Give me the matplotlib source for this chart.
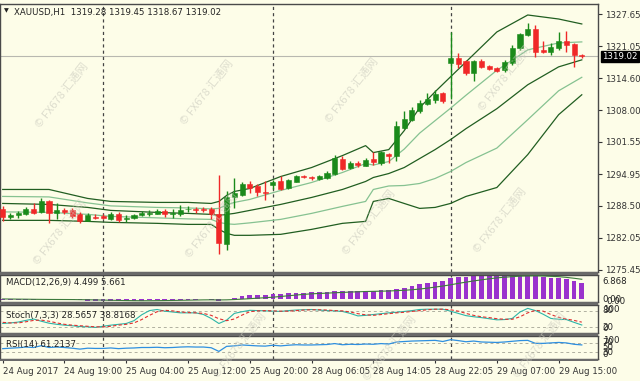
import matplotlib
matplotlib.use('Agg')
import matplotlib.pyplot as plt
from matplotlib.patches import Rectangle
import numpy as np

# ---------------- data ----------------
title_text = "XAUUSD,H1  1319.28 1319.45 1318.67 1319.02"
opens = [1287.8, 1286.3, 1286.6, 1286.8, 1287.9, 1287.3, 1289.5, 1287.0, 1287.65, 1287.65,
         1286.8, 1285.4, 1286.3, 1286.4, 1285.8, 1286.8, 1285.8, 1286.0, 1286.6, 1286.95,
         1286.95, 1287.45, 1286.95, 1286.8, 1287.8, 1287.9, 1287.9, 1287.8, 1286.8, 1280.7,
         1290.4, 1290.65, 1292.9, 1292.6, 1291.4, 1292.75, 1293.55, 1292.2, 1293.4, 1294.7,
         1294.45, 1294.1, 1294.25, 1295.05, 1298.1, 1296.3, 1297.3, 1296.75, 1298.05, 1297.3,
         1299.2, 1298.65, 1304.4, 1306.1, 1307.9, 1309.3, 1310.15, 1311.5, 1317.6, 1318.75,
         1318.1, 1315.6, 1318.15, 1316.95, 1316.6, 1316.25, 1317.6, 1320.7, 1323.4, 1324.5,
         1320.33, 1319.95, 1320.8, 1322.15, 1321.5, 1319.28]
highs = [1288.4, 1287.0, 1287.5, 1288.2, 1289.1, 1290.2, 1289.8, 1289.1, 1288.15, 1288.15,
         1287.2, 1287.0, 1286.8, 1286.9, 1287.3, 1287.2, 1286.6, 1286.9, 1287.4, 1287.6,
         1287.8, 1287.8, 1287.8, 1288.7, 1288.5, 1288.3, 1288.3, 1288.3, 1294.9, 1291.5,
         1294.25, 1293.35, 1293.55, 1292.9, 1293.55, 1293.75, 1294.6, 1294.1, 1294.9, 1294.9,
         1294.6, 1294.8, 1295.6, 1298.8, 1298.65, 1297.6, 1297.6, 1298.2, 1299.5, 1299.8,
         1299.35, 1305.75, 1307.9, 1308.6, 1310.15, 1311.5, 1312.2, 1311.7, 1323.9, 1319.65,
         1318.3, 1318.3, 1318.4, 1317.3, 1316.9, 1318.3, 1321.35, 1323.7, 1325.9, 1325.4,
         1322.2, 1321.7, 1324.05, 1324.25, 1321.7, 1319.45]
lows = [1285.4, 1285.8, 1286.0, 1286.6, 1286.8, 1287.1, 1285.1, 1285.8, 1286.8, 1286.1,
        1285.1, 1285.4, 1285.8, 1285.8, 1285.6, 1285.3, 1285.3, 1285.8, 1286.4, 1286.4,
        1286.8, 1286.3, 1286.1, 1286.4, 1287.3, 1287.1, 1287.2, 1285.8, 1278.7, 1279.5,
        1288.15, 1290.5, 1291.2, 1290.5, 1289.8, 1292.05, 1291.85, 1292.05, 1293.3, 1294.2,
        1293.9, 1293.9, 1294.1, 1294.8, 1295.8, 1295.95, 1296.5, 1296.6, 1296.85, 1296.95,
        1297.35, 1297.75, 1304.3, 1305.9, 1307.45, 1309.0, 1309.5, 1309.6, 1310.3, 1316.6,
        1315.25, 1313.9, 1316.6, 1316.2, 1315.85, 1315.9, 1317.3, 1320.3, 1323.2, 1318.95,
        1319.65, 1319.2, 1320.33, 1319.95, 1316.8, 1318.67]
closes = [1286.2, 1286.6, 1287.0, 1287.8, 1287.1, 1289.5, 1287.1, 1287.65, 1287.3, 1286.4,
          1285.4, 1286.6, 1286.1, 1286.1, 1286.8, 1285.7, 1286.1, 1286.6, 1287.1, 1287.15,
          1287.45, 1286.8, 1287.15, 1287.65, 1287.9, 1287.65, 1287.65, 1286.9, 1280.9, 1290.4,
          1291.05, 1292.9, 1292.2, 1291.3, 1291.2, 1293.4, 1292.0, 1293.75, 1294.7, 1294.45,
          1294.15, 1294.6, 1295.25, 1298.2, 1296.1, 1297.3, 1296.8, 1297.9, 1297.5, 1299.45,
          1298.65, 1304.75, 1306.3, 1308.1, 1309.6, 1310.4, 1311.4, 1309.95, 1318.6, 1317.4,
          1315.6, 1318.1, 1316.8, 1316.4, 1316.1, 1317.95, 1320.8, 1323.5, 1324.5, 1319.95,
          1319.8, 1320.9, 1322.15, 1321.35, 1319.3, 1319.02]

# Bollinger bands (read at selected bars)
band_bars = [0, 6, 11, 14, 20, 24, 27, 28, 29, 30, 32, 36, 40, 44, 47, 48, 50, 52, 54, 56,
             58, 60, 64, 68, 72, 75]
bb_upper2 = [1291.87, 1291.87, 1290.04, 1289.43, 1289.23, 1289.23, 1289.02, 1289.43, 1290.65,
             1291.46, 1292.07, 1294.51, 1296.34, 1298.78, 1300.81, 1299.39, 1300.00, 1303.86,
             1308.54, 1311.79, 1314.84, 1317.89, 1323.99, 1327.45, 1326.63, 1325.62]
bb_upper1 = [1290.45, 1290.35, 1289.13, 1288.52, 1288.21, 1288.11, 1287.91, 1288.01, 1288.72,
             1289.23, 1289.84, 1291.67, 1293.29, 1295.33, 1297.16, 1296.85, 1297.56, 1300.10,
             1303.36, 1305.90, 1308.44, 1311.08, 1316.17, 1320.34, 1321.75, 1321.96]
bb_middle = [1289.02, 1288.82, 1288.21, 1287.60, 1287.19, 1286.99, 1286.79, 1286.58, 1286.79,
             1286.99, 1287.60, 1288.82, 1290.24, 1291.87, 1293.50, 1294.31, 1295.12, 1296.34,
             1298.17, 1300.00, 1302.03, 1304.27, 1308.34, 1313.22, 1316.87, 1318.30]
bb_lower1 = [1287.30, 1287.20, 1286.79, 1286.38, 1286.08, 1285.87, 1285.77, 1285.16, 1284.86,
             1284.76, 1285.06, 1285.77, 1286.99, 1288.42, 1289.43, 1291.87, 1292.58, 1292.68,
             1293.09, 1294.11, 1295.53, 1297.36, 1300.31, 1306.10, 1311.99, 1314.74]
bb_lower2 = [1285.57, 1285.57, 1285.36, 1285.16, 1284.96, 1284.75, 1284.75, 1283.73, 1282.92,
             1282.52, 1282.52, 1282.72, 1283.73, 1284.96, 1285.36, 1289.43, 1290.04, 1289.02,
             1288.01, 1288.21, 1289.02, 1290.45, 1292.27, 1298.98, 1307.12, 1311.18]

current_price = 1319.02
price_ticks = [1327.65, 1321.05, 1314.60, 1308.00, 1301.55, 1294.95, 1288.50, 1282.05, 1275.45]

macd_main = [-0.1, -0.15, -0.15, -0.1, -0.1, 0.05, 0.0, -0.05, -0.1, -0.2,
             -0.3, -0.35, -0.4, -0.4, -0.4, -0.45, -0.45, -0.4, -0.35, -0.3,
             -0.25, -0.25, -0.2, -0.15, -0.1, -0.1, -0.05, -0.1, -0.55, 0.1,
             0.5, 0.95, 1.2, 1.3, 1.35, 1.55, 1.6, 1.7, 1.85, 1.9,
             1.95, 2.0, 2.05, 2.25, 2.3, 2.35, 2.35, 2.4, 2.4, 2.5,
             2.5, 2.9, 3.3, 3.8, 4.2, 4.6, 5.0, 5.2, 5.9, 6.3,
             6.4, 6.6, 6.7, 6.7, 6.6, 6.6, 6.75, 6.868, 6.85, 6.6,
             6.3, 6.1, 6.0, 5.7, 5.1, 4.499]
macd_signal = [0.1, 0.08, 0.05, 0.03, 0.0, -0.02, -0.04, -0.05, -0.06, -0.07,
               -0.1, -0.13, -0.17, -0.22, -0.27, -0.31, -0.35, -0.38, -0.4, -0.4,
               -0.38, -0.35, -0.32, -0.28, -0.24, -0.2, -0.16, -0.14, -0.18, -0.15,
               -0.07, 0.05, 0.18, 0.32, 0.45, 0.6, 0.8, 1.0, 1.2, 1.4,
               1.55, 1.65, 1.75, 1.85, 1.95, 2.05, 2.12, 2.2, 2.25, 2.3,
               2.35, 2.45, 2.55, 2.7, 2.9, 3.15, 3.45, 3.75, 4.1, 4.5,
               4.85, 5.2, 5.5, 5.8, 6.05, 6.25, 6.4, 6.55, 6.62, 6.65,
               6.6, 6.5, 6.4, 6.2, 5.95, 5.661]
macd_max = 6.868

stoch_k = [34, 36, 39, 45, 50, 42, 35, 31, 28, 26, 23, 22, 20, 24, 28, 31, 34, 44, 65, 80,
           84, 78, 75, 72, 72, 72, 66, 52, 34, 46, 70, 76, 81, 80, 79, 78, 77, 80, 82, 83,
           84, 82, 80, 79, 77, 70, 61, 63, 66, 69, 72, 74, 77, 80, 84, 85, 85, 85, 78, 70,
           62, 58, 55, 51, 47, 48, 52, 75, 88, 80, 67, 52, 49, 48, 38, 28.5657]
stoch_d = [38, 36, 36, 40, 45, 46, 42, 36, 31, 28, 26, 24, 22, 22, 24, 28, 31, 36, 48, 63,
           76, 81, 79, 75, 73, 72, 70, 63, 51, 44, 50, 64, 76, 79, 80, 79, 78, 78, 80, 82,
           83, 83, 82, 80, 79, 75, 69, 65, 63, 66, 69, 72, 74, 77, 80, 83, 85, 85, 83, 78,
           70, 63, 58, 55, 51, 49, 49, 58, 72, 81, 78, 66, 56, 50, 45, 38.8168]
rsi = [45, 47, 49, 52, 50, 58, 50, 52, 50, 47, 43, 47, 46, 46, 48, 45, 47, 48, 50, 50,
       51, 49, 50, 52, 53, 52, 52, 49, 33, 55, 57, 61, 59, 57, 56, 60, 57, 60, 62, 61,
       61, 62, 63, 67, 62, 64, 63, 65, 64, 67, 65, 74, 76, 78, 79, 80, 81, 76, 84, 80,
       75, 78, 74, 73, 72, 74, 77, 80, 81, 68, 68, 70, 72, 70, 64, 61.2137]

time_labels = ['24 Aug 2017', '24 Aug 19:00', '25 Aug 04:00', '25 Aug 12:00', '25 Aug 20:00',
               '28 Aug 06:05', '28 Aug 14:05', '28 Aug 22:05', '29 Aug 07:00', '29 Aug 15:00']
label_bars = [0, 8, 16, 24, 32, 40, 48, 56, 64, 72]
day_separators = [13, 35, 58]

watermark = "© FX678 汇通网"
watermark_spots = [(62, 95), (207, 92), (352, 90), (505, 78),
                   (60, 232), (212, 225), (369, 222), (500, 220),
                   (240, 345), (390, 348), (540, 345)]

# ---------------- style ----------------
W, H = 640, 381
BG = '#FDFDE8'
GREEN = '#1A8A1A'
RED = '#F02828'
DARKBAND = '#215E21'
LIGHTBAND = '#86C291'
SEP = '#6a6a6a'
FONT = 'DejaVu Sans'
FS = 6.2

fig = plt.figure(figsize=(W / 100, H / 100), dpi=100)
fig.patch.set_facecolor(BG)


def px_axes(l, t, r, b):
    a = fig.add_axes([l / W, 1 - b / H, (r - l) / W, (b - t) / H])
    a.set_facecolor(BG)
    for s in a.spines.values():
        s.set_color('#4a4a4a')
        s.set_linewidth(1.0)
    a.yaxis.tick_right()
    a.tick_params(axis='y', direction='out', length=3, width=0.8, colors='#333333',
                  labelsize=FS, pad=2)
    a.tick_params(axis='x', bottom=False, labelbottom=False)
    return a


# panel separator bands (MT4-like grey borders between sub-windows)
for top, bot in ((272, 275), (302, 305), (333, 336), (359, 361)):
    fig.patches.append(Rectangle((0, 1 - bot / H), 598 / W, (bot - top) / H,
                                 transform=fig.transFigure, fc=SEP, ec='none', zorder=0))

n = len(closes)
x = np.arange(n)
xlim = (-0.35, 77.1)

# main price panel
ax = px_axes(0, 4, 598, 272)
ax.set_xlim(*xlim)
ax.set_ylim(1275.04, 1329.69)

for xi, lo, hi, o, c in zip(x, lows, highs, opens, closes):
    col = GREEN if c >= o else RED
    ax.vlines(xi, lo, hi, color=col, linewidth=1.0, zorder=3)
    bot = min(o, c)
    h = max(abs(c - o), 0.18)
    ax.bar(xi, h, bottom=bot, width=0.66, color=col, edgecolor=col, linewidth=0.4, zorder=4)

ax.plot(band_bars, bb_upper2, color=DARKBAND, lw=0.9, zorder=2)
ax.plot(band_bars, bb_middle, color=DARKBAND, lw=0.9, zorder=2)
ax.plot(band_bars, bb_lower2, color=DARKBAND, lw=0.9, zorder=2)
ax.plot(band_bars, bb_upper1, color=LIGHTBAND, lw=0.9, zorder=2)
ax.plot(band_bars, bb_lower1, color=LIGHTBAND, lw=0.9, zorder=2)

ax.axhline(current_price, color='#b8b8b0', lw=0.8, zorder=1)
ax.set_yticks(price_ticks)
ax.set_yticklabels(['%.2f' % p for p in price_ticks], fontfamily=FONT)
ax.annotate('%.2f' % current_price, xy=(1.0, current_price), xycoords=('axes fraction', 'data'),
            xytext=(3, 0), textcoords='offset points', ha='left', va='center',
            fontsize=FS, color='white', fontfamily=FONT, annotation_clip=False,
            bbox=dict(boxstyle='square,pad=0.15', fc='black', ec='black'))
ax.text(0.006, 0.985, '\u25BC', transform=ax.transAxes, fontsize=4.5, va='top', ha='left',
        color='#222222', fontfamily=FONT)
ax.text(0.024, 0.985, title_text, transform=ax.transAxes, fontsize=FS, va='top', ha='left',
        color='#222222', fontfamily=FONT)

# MACD panel
axm = px_axes(0, 275, 598, 302)
axm.set_xlim(*xlim)
axm.set_ylim(-0.76, macd_max)
axm.bar(x, macd_main, width=0.62, color='#9A32CD', zorder=2)
axm.plot(x, macd_signal, color='#3C7A3C', lw=0.8, zorder=3)
axm.set_yticks([])
axm.tick_params(axis='y', length=0)
axm.text(1.008, 0.93, '%.3f' % macd_max, transform=axm.transAxes, fontsize=FS, va='top',
         ha='left', color='#222222', fontfamily=FONT)
axm.text(1.008, 0.10, '0.00', transform=axm.transAxes, fontsize=FS, va='center',
         ha='left', color='#222222', fontfamily=FONT)
axm.text(1.014, 0.02, '0.00', transform=axm.transAxes, fontsize=FS, va='center',
         ha='left', color='#222222', fontfamily=FONT)
axm.text(0.01, 0.72, 'MACD(12,26,9) %.3f %.3f' % (macd_main[-1], macd_signal[-1]),
         transform=axm.transAxes, fontsize=FS, va='center', ha='left', color='#222222',
         fontfamily=FONT)

# Stochastic panel
axs = px_axes(0, 305, 598, 333)
axs.set_xlim(*xlim)
axs.set_ylim(0, 100)
for lv in (80, 20):
    axs.axhline(lv, color='#b0b0a0', lw=0.7, ls=(0, (3, 3)), zorder=1)
axs.plot(x, stoch_k, color='#2CB5A8', lw=0.8, zorder=3)
axs.plot(x, stoch_d, color='#E03030', lw=0.8, ls=(0, (3, 2)), zorder=3)
axs.set_yticks([])
axs.tick_params(axis='y', length=0)
for txt, yy, va in (('100', 100, 'top'), ('80', 80, 'center'), ('20', 20, 'center'), ('0', 0, 'bottom')):
    axs.text(1.008, yy, txt, transform=axs.get_yaxis_transform(), fontsize=FS, va=va,
             ha='left', color='#222222', fontfamily=FONT)
axs.text(0.01, 0.62, 'Stoch(7,3,3) %.4f %.4f' % (stoch_k[-1], stoch_d[-1]),
         transform=axs.transAxes, fontsize=FS, va='center', ha='left', color='#222222',
         fontfamily=FONT)

# RSI panel
axr = px_axes(0, 336, 598, 359)
axr.set_xlim(*xlim)
axr.set_ylim(0, 100)
for lv in (70, 30):
    axr.axhline(lv, color='#b0b0a0', lw=0.7, ls=(0, (3, 3)), zorder=1)
axr.plot(x, rsi, color='#2E8FE0', lw=0.9, zorder=3)
axr.set_yticks([])
axr.tick_params(axis='y', length=0)
for txt, yy, va in (('100', 100, 'top'), ('70', 70, 'center'), ('50', 50, 'center'),
                    ('30', 30, 'center'), ('0', 0, 'bottom')):
    axr.text(1.008, yy, txt, transform=axr.get_yaxis_transform(), fontsize=FS, va=va,
             ha='left', color='#222222', fontfamily=FONT)
axr.text(0.01, 0.62, 'RSI(14) %.4f' % rsi[-1], transform=axr.transAxes, fontsize=FS,
         va='center', ha='left', color='#222222', fontfamily=FONT)
axr.set_xticks(label_bars)
axr.set_xticklabels(time_labels, fontfamily=FONT, fontsize=FS, ha='left')
axr.tick_params(axis='x', bottom=True, labelbottom=True, direction='out', length=3,
                width=0.8, colors='#333333', pad=3)

# day separators
for a in (ax, axm, axs, axr):
    for s in day_separators:
        a.axvline(s, color='#444444', lw=0.9, ls=(0, (2.5, 2.5)), zorder=1.5)

# watermarks
for wx, wy in watermark_spots:
    fig.text(wx / W, 1 - wy / H, watermark, fontsize=8, rotation=52, ha='center', va='center',
             color='#c8c8bc', alpha=0.6, family=['Noto Sans CJK SC', 'DejaVu Sans'], zorder=10)

fig.savefig('out.png', dpi=100, facecolor=fig.get_facecolor())
